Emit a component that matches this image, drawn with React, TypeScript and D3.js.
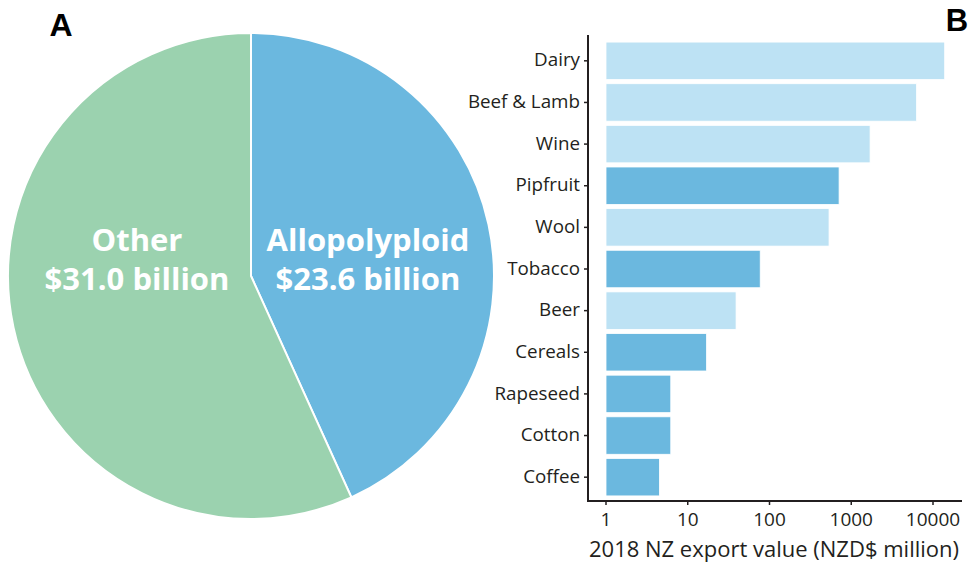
import React from "react";
import * as d3 from "d3";

const pieLabels = ["Allopolyploid", "Other"];
const pieValues = [23.6, 31.0];
const pieValueLabels = ["$23.6 billion", "$31.0 billion"];
const pieColors = ["#6BB8DF", "#9BD2AF"];

const categories = ["Dairy", "Beef & Lamb", "Wine", "Pipfruit", "Wool", "Tobacco", "Beer", "Cereals", "Rapeseed", "Cotton", "Coffee"];
const exportValues = [13900, 6300, 1700, 710, 535, 77, 39, 17, 6.2, 6.2, 4.5];
const allopolyploid = [false, false, false, true, false, true, false, true, true, true, true];
const tickValues = [1, 10, 100, 1000, 10000];

const W = 971;
const H = 566;
const FONT = "'Open Sans', 'Noto Sans', sans-serif";

export default function App() {
  // Pie
  const cx = 251, cy = 276, r = 243;
  const pie = d3.pie<number>().sort(null).value((d) => d)(pieValues);
  const arc = d3.arc<d3.PieArcDatum<number>>().innerRadius(0).outerRadius(r);
  const labelPos = [
    [368 - cx, 0],
    [137 - cx, 0],
  ];

  // Bars
  const x = d3.scaleLog().domain([1, 10000]).range([606, 933]);
  const y = d3.scaleBand<string>().domain(categories).range([40, 498]).paddingInner(0.1).paddingOuter(0.05);
  const axisX = 588;
  const axisY = 501;

  return (
    <svg width={W} height={H} style={{ position: "absolute", left: 0, top: 0 }}>
      <rect width={W} height={H} fill="#fff" />
      <text x={61} y={36} fontFamily="Arial, 'Liberation Sans', sans-serif" fontWeight="bold" fontSize={32} textAnchor="middle">A</text>
      <text x={957} y={31} fontFamily="Arial, 'Liberation Sans', sans-serif" fontWeight="bold" fontSize={31} textAnchor="middle">B</text>

      <g transform={`translate(${cx},${cy})`}>
        {pie.map((p, i) => (
          <path key={i} d={arc(p) || ""} fill={pieColors[i]} stroke="#fff" strokeWidth={2} />
        ))}
        {pie.map((p, i) => (
          <text key={"t" + i} x={labelPos[i][0]} fill="#fff" fontFamily={FONT} fontWeight="bold" fontSize={31} textAnchor="middle">
            <tspan x={labelPos[i][0]} y={-25}>{pieLabels[i]}</tspan>
            <tspan x={labelPos[i][0]} y={14}>{pieValueLabels[i]}</tspan>
          </text>
        ))}
      </g>

      <g>
        {categories.map((c, i) => (
          <rect
            key={c}
            x={x(1)}
            y={y(c)!}
            width={x(exportValues[i]) - x(1)}
            height={y.bandwidth()}
            fill={allopolyploid[i] ? "#6BB8DF" : "#BDE2F4"}
            stroke="#fff"
            strokeWidth={0.8}
          />
        ))}
        <line x1={axisX} x2={axisX} y1={35} y2={axisY + 1} stroke="#231F20" strokeWidth={2} />
        <line x1={axisX - 1} x2={962} y1={axisY} y2={axisY} stroke="#231F20" strokeWidth={2} />
        {categories.map((c) => {
          const yc = y(c)! + y.bandwidth() / 2;
          return (
            <g key={"l" + c}>
              <line x1={axisX - 4} x2={axisX} y1={yc} y2={yc} stroke="#231F20" strokeWidth={1.5} />
              <text x={580} y={yc} dy="0.3em" textAnchor="end" fontFamily={FONT} fontSize={18.8} fill="#231F20">{c}</text>
            </g>
          );
        })}
        {tickValues.map((t) => (
          <g key={"x" + t}>
            <line x1={x(t)} x2={x(t)} y1={axisY} y2={axisY + 4} stroke="#231F20" strokeWidth={1.5} />
            <text x={x(t)} y={526} textAnchor="middle" fontFamily={FONT} fontSize={19} fill="#231F20">{t}</text>
          </g>
        ))}
        <text x={774} y={557} textAnchor="middle" fontFamily={FONT} fontSize={22} fill="#231F20">2018 NZ export value (NZD$ million)</text>
      </g>
    </svg>
  );
}
